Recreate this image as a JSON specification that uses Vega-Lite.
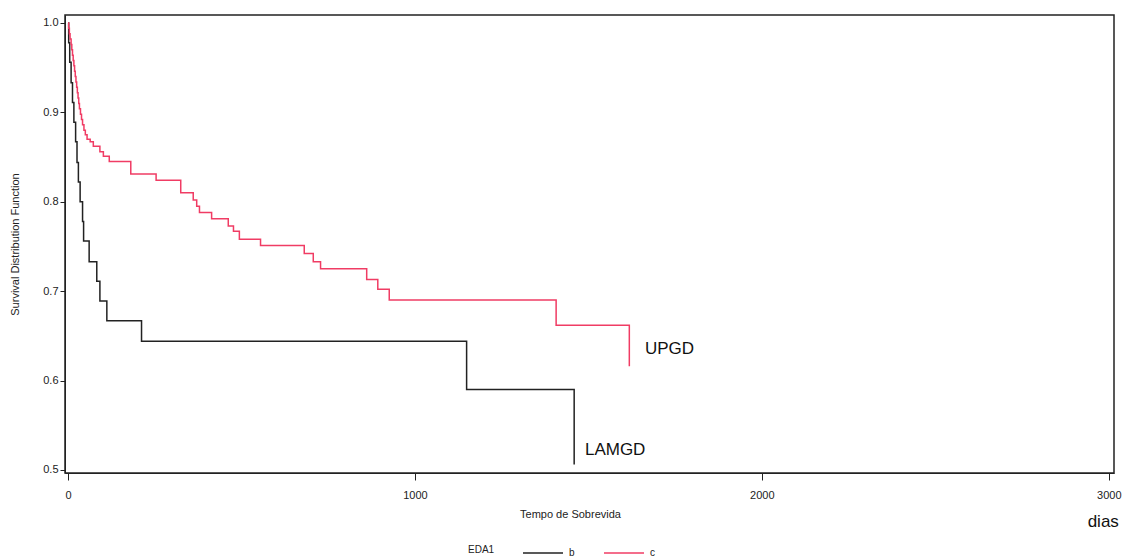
{
  "$schema": "https://vega.github.io/schema/vega-lite/v6.json",
  "autosize": "none",
  "width": 1049,
  "height": 458,
  "padding": {"left": 65, "top": 15, "right": 8, "bottom": 87},
  "background": "white",
  "config": {
    "view": {"stroke": "#222222", "strokeWidth": 1.5},
    "font": "Liberation Sans",
    "axis": {"grid": false, "domainColor": "#222222", "tickColor": "#222222", "labelColor": "#222222", "titleColor": "#222222", "labelFont": "Liberation Sans", "titleFont": "Liberation Sans", "titleFontWeight": "normal", "labelFontSize": 11, "titleFontSize": 11}
  },
  "datasets": {
    "km": [
      {"EDA1": "b", "t": 0, "S": 1.0},
      {"EDA1": "b", "t": 2, "S": 0.978},
      {"EDA1": "b", "t": 5, "S": 0.956},
      {"EDA1": "b", "t": 9, "S": 0.933},
      {"EDA1": "b", "t": 13, "S": 0.911},
      {"EDA1": "b", "t": 17, "S": 0.889},
      {"EDA1": "b", "t": 22, "S": 0.867},
      {"EDA1": "b", "t": 26, "S": 0.844},
      {"EDA1": "b", "t": 30, "S": 0.822},
      {"EDA1": "b", "t": 35, "S": 0.8},
      {"EDA1": "b", "t": 42, "S": 0.778},
      {"EDA1": "b", "t": 45, "S": 0.756},
      {"EDA1": "b", "t": 61, "S": 0.733},
      {"EDA1": "b", "t": 83, "S": 0.711},
      {"EDA1": "b", "t": 92, "S": 0.689},
      {"EDA1": "b", "t": 112, "S": 0.667},
      {"EDA1": "b", "t": 212, "S": 0.644},
      {"EDA1": "b", "t": 1149, "S": 0.59},
      {"EDA1": "b", "t": 1459, "S": 0.506},
      {"EDA1": "c", "t": 0, "S": 1.0},
      {"EDA1": "c", "t": 2, "S": 0.994},
      {"EDA1": "c", "t": 4, "S": 0.988},
      {"EDA1": "c", "t": 6, "S": 0.982},
      {"EDA1": "c", "t": 9, "S": 0.976},
      {"EDA1": "c", "t": 11, "S": 0.97},
      {"EDA1": "c", "t": 13, "S": 0.964},
      {"EDA1": "c", "t": 15, "S": 0.958},
      {"EDA1": "c", "t": 17, "S": 0.952},
      {"EDA1": "c", "t": 19, "S": 0.946},
      {"EDA1": "c", "t": 21, "S": 0.94},
      {"EDA1": "c", "t": 23, "S": 0.934},
      {"EDA1": "c", "t": 25, "S": 0.928},
      {"EDA1": "c", "t": 27, "S": 0.922},
      {"EDA1": "c", "t": 29, "S": 0.916},
      {"EDA1": "c", "t": 31, "S": 0.91},
      {"EDA1": "c", "t": 33, "S": 0.904},
      {"EDA1": "c", "t": 36, "S": 0.898},
      {"EDA1": "c", "t": 39, "S": 0.892},
      {"EDA1": "c", "t": 42, "S": 0.886},
      {"EDA1": "c", "t": 46, "S": 0.88},
      {"EDA1": "c", "t": 50, "S": 0.875},
      {"EDA1": "c", "t": 55, "S": 0.87},
      {"EDA1": "c", "t": 64, "S": 0.867},
      {"EDA1": "c", "t": 73, "S": 0.862},
      {"EDA1": "c", "t": 92, "S": 0.856},
      {"EDA1": "c", "t": 102, "S": 0.851},
      {"EDA1": "c", "t": 119, "S": 0.845},
      {"EDA1": "c", "t": 181, "S": 0.831},
      {"EDA1": "c", "t": 254, "S": 0.824},
      {"EDA1": "c", "t": 325, "S": 0.81},
      {"EDA1": "c", "t": 361, "S": 0.802},
      {"EDA1": "c", "t": 371, "S": 0.795},
      {"EDA1": "c", "t": 379, "S": 0.788},
      {"EDA1": "c", "t": 414, "S": 0.781},
      {"EDA1": "c", "t": 462, "S": 0.773},
      {"EDA1": "c", "t": 477, "S": 0.767},
      {"EDA1": "c", "t": 494, "S": 0.758},
      {"EDA1": "c", "t": 555, "S": 0.751},
      {"EDA1": "c", "t": 681, "S": 0.742},
      {"EDA1": "c", "t": 707, "S": 0.733},
      {"EDA1": "c", "t": 728, "S": 0.725},
      {"EDA1": "c", "t": 861, "S": 0.713},
      {"EDA1": "c", "t": 893, "S": 0.702},
      {"EDA1": "c", "t": 926, "S": 0.69},
      {"EDA1": "c", "t": 1407, "S": 0.662},
      {"EDA1": "c", "t": 1618, "S": 0.616}
    ],
    "labels": [
      {"label": "UPGD", "t": 1663, "S": 0.635},
      {"label": "LAMGD", "t": 1490, "S": 0.522}
    ],
    "unit": [
      {"label": "dias", "t": 2984, "S": 0.442}
    ]
  },
  "layer": [
    {
      "data": {"name": "km"},
      "mark": {"type": "line", "interpolate": "step-after", "strokeWidth": 1.5},
      "encoding": {
        "x": {
          "field": "t", "type": "quantitative",
          "scale": {"domain": [-8.6, 3015], "nice": false, "zero": false},
          "axis": {"values": [0, 1000, 2000, 3000], "title": "Tempo de Sobrevida", "tickSize": 7, "labelPadding": 9, "titlePadding": 8, "titleX": 505, "format": "d"}
        },
        "y": {
          "field": "S", "type": "quantitative",
          "scale": {"domain": [0.4966, 1.0089], "nice": false, "zero": false},
          "axis": {"values": [0.5, 0.6, 0.7, 0.8, 0.9, 1.0], "format": ".1f", "title": "Survival Distribution Function", "tickSize": 5, "labelPadding": 2, "titlePadding": 22}
        },
        "color": {
          "field": "EDA1", "type": "nominal",
          "scale": {"domain": ["b", "c"], "range": ["#222222", "#f03c64"]},
          "legend": {
            "orient": "none", "legendX": 403, "legendY": 517,
            "direction": "horizontal", "title": "EDA1", "titleOrient": "left",
            "titleAnchor": "middle", "titleBaseline": "top",
            "titleFontWeight": "normal", "titleFontSize": 10, "titleFont": "Liberation Sans", "titleColor": "#222222",
            "titlePadding": 27, "labelFontSize": 10, "labelFont": "Liberation Sans", "labelColor": "#222222",
            "symbolType": "stroke", "symbolSize": 1600, "symbolStrokeWidth": 1.5, "labelOffset": 5, "columnPadding": 26
          }
        }
      }
    },
    {
      "data": {"name": "labels"},
      "mark": {"type": "text", "align": "left", "baseline": "middle", "fontSize": 17, "font": "Liberation Sans", "color": "#111111"},
      "encoding": {
        "x": {"field": "t", "type": "quantitative"},
        "y": {"field": "S", "type": "quantitative"},
        "text": {"field": "label"}
      }
    },
    {
      "data": {"name": "unit"},
      "mark": {"type": "text", "align": "center", "baseline": "middle", "fontSize": 17, "font": "Liberation Sans", "color": "#111111", "clip": false},
      "encoding": {
        "x": {"field": "t", "type": "quantitative"},
        "y": {"field": "S", "type": "quantitative"},
        "text": {"field": "label"}
      }
    }
  ]
}
